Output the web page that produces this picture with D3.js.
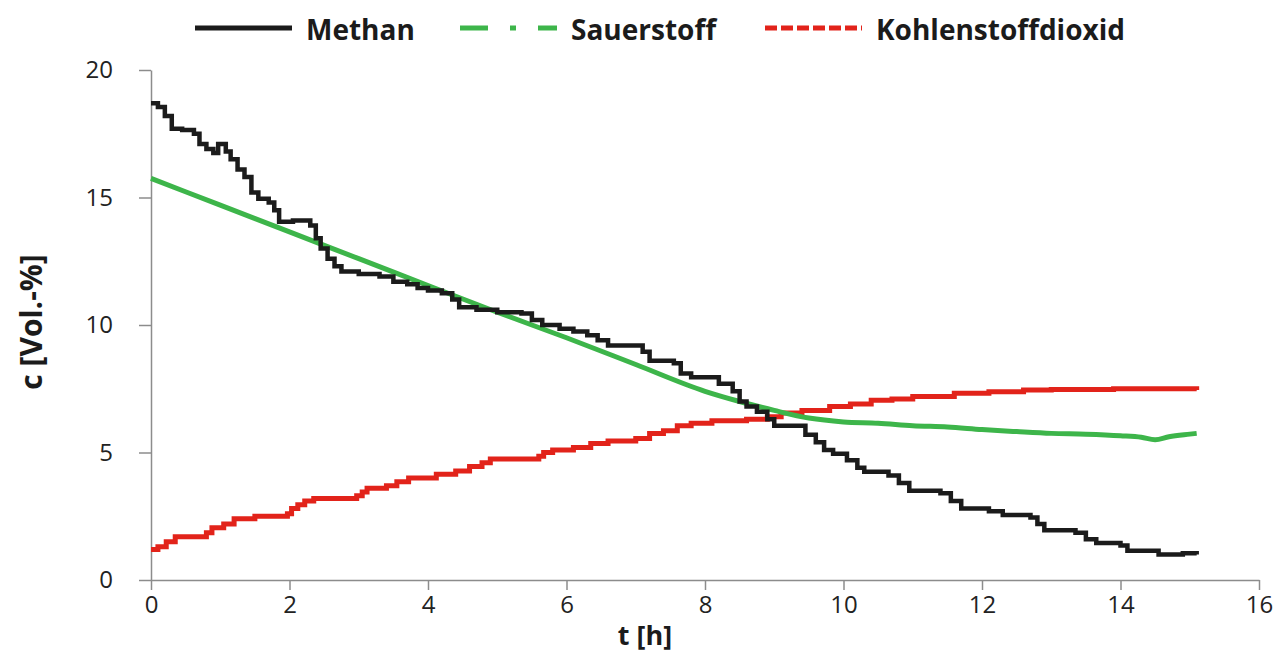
<!DOCTYPE html>
<html>
<head>
<meta charset="utf-8">
<script src="https://cdn.jsdelivr.net/npm/d3@7"></script>
<style>
  body { margin: 0; background: #fff; }
  svg { display: block; }
</style>
</head>
<body>
<svg id="chart"></svg>
<script>
// data (t in h, c in Vol.-%)
const methanT = [0, 0.1, 0.2, 0.3, 0.45, 0.62, 0.7, 0.8, 0.9, 0.97, 1.08, 1.15, 1.25, 1.35, 1.45, 1.55, 1.7, 1.78, 1.85, 2.05, 2.3, 2.38, 2.45, 2.55, 2.65, 2.75, 3.0, 3.3, 3.5, 3.7, 3.85, 4.0, 4.2, 4.35, 4.45, 4.7, 5.0, 5.35, 5.5, 5.65, 5.9, 6.1, 6.3, 6.45, 6.6, 6.95, 7.1, 7.2, 7.55, 7.65, 7.8, 8.2, 8.4, 8.5, 8.6, 8.75, 8.9, 9.0, 9.45, 9.6, 9.72, 9.85, 10.05, 10.2, 10.3, 10.65, 10.8, 10.95, 11.4, 11.55, 11.7, 12.1, 12.3, 12.7, 12.8, 12.9, 13.35, 13.5, 13.65, 14.0, 14.1, 14.55, 14.9, 15.1]
const methanV = [18.7, 18.55, 18.2, 17.7, 17.65, 17.5, 17.1, 16.9, 16.75, 17.1, 16.8, 16.5, 16.1, 15.8, 15.2, 14.95, 14.8, 14.5, 14.05, 14.1, 13.9, 13.4, 13.0, 12.6, 12.3, 12.1, 12.0, 11.9, 11.7, 11.6, 11.45, 11.35, 11.25, 11.0, 10.7, 10.6, 10.5, 10.45, 10.2, 10.0, 9.85, 9.75, 9.6, 9.4, 9.2, 9.2, 8.95, 8.6, 8.5, 8.1, 7.95, 7.7, 7.4, 7.0, 6.8, 6.6, 6.3, 6.05, 5.7, 5.4, 5.1, 4.95, 4.7, 4.4, 4.25, 4.1, 3.8, 3.5, 3.4, 3.1, 2.8, 2.7, 2.55, 2.45, 2.2, 1.95, 1.85, 1.6, 1.45, 1.35, 1.15, 1.0, 1.05, 1.0]

const sauerstoffT = [0, 1, 2, 3, 4, 5, 6, 7, 8, 8.5, 9, 9.5, 10, 10.5, 11, 11.5, 12, 12.5, 13, 13.5, 14, 14.3, 14.5, 14.7, 15, 15.1]
const sauerstoffV = [15.75, 14.7, 13.65, 12.6, 11.55, 10.5, 9.5, 8.45, 7.4, 7.0, 6.65, 6.35, 6.2, 6.15, 6.05, 6.0, 5.9, 5.82, 5.75, 5.72, 5.66, 5.6, 5.5, 5.62, 5.72, 5.75]

const co2T = [0, 0.1, 0.22, 0.35, 0.8, 0.88, 1.05, 1.2, 1.5, 1.97, 2.03, 2.12, 2.22, 2.35, 2.97, 3.05, 3.12, 3.4, 3.55, 3.72, 4.12, 4.4, 4.6, 4.78, 4.9, 5.6, 5.67, 5.8, 6.1, 6.35, 6.6, 7.0, 7.2, 7.4, 7.6, 7.8, 8.1, 8.6, 8.9, 9.1, 9.4, 9.8, 10.1, 10.4, 10.7, 11.0, 11.6, 12.1, 12.6, 13.0, 13.9, 15.1]
const co2V = [1.2, 1.3, 1.5, 1.7, 1.85, 2.05, 2.2, 2.4, 2.5, 2.6, 2.8, 2.95, 3.1, 3.2, 3.3, 3.45, 3.6, 3.7, 3.85, 4.0, 4.15, 4.27, 4.45, 4.6, 4.75, 4.85, 5.0, 5.1, 5.2, 5.35, 5.45, 5.55, 5.75, 5.85, 6.05, 6.15, 6.25, 6.3, 6.4, 6.55, 6.65, 6.8, 6.9, 7.05, 7.1, 7.2, 7.32, 7.38, 7.45, 7.47, 7.5, 7.45]

const xTicks = [0, 2, 4, 6, 8, 10, 12, 14, 16]
const yTicks = [0, 5, 10, 15, 20]

const seriesNames = ['Methan', 'Sauerstoff', 'Kohlenstoffdioxid']
const seriesColors = ['#1b1b1b', '#3db54a', '#e2231a']

const width = 1275
const height = 654
const svg = d3.select('#chart').attr('width', width).attr('height', height)

// Scales
const x = d3.scaleLinear().domain([0, 16]).range([151, 1259])
const y = d3.scaleLinear().domain([0, 20]).range([580, 70])

const axisColor = '#8c8c8c'
const tickFont = '"Open Sans", sans-serif'

// y axis
const yAxis = svg.append('g')
  .attr('transform', `translate(${x(0)},0)`)
  .call(d3.axisLeft(y).tickValues(yTicks).tickSize(12).tickPadding(26).tickSizeOuter(0))
yAxis.select('.domain').attr('stroke', axisColor).attr('stroke-width', 1.5)
yAxis.selectAll('.tick line').attr('stroke', axisColor).attr('stroke-width', 1.5)
yAxis.selectAll('.tick text')
  .attr('fill', '#222')
  .style('font-family', tickFont)
  .style('font-size', '24px')

// x axis
const xAxis = svg.append('g')
  .attr('transform', `translate(0,${y(0)})`)
  .call(d3.axisBottom(x).tickValues(xTicks).tickSize(10).tickPadding(6).tickSizeOuter(0))
xAxis.select('.domain').attr('stroke', axisColor).attr('stroke-width', 1.5)
xAxis.selectAll('.tick line').attr('stroke', axisColor).attr('stroke-width', 1.5)
xAxis.selectAll('.tick text')
  .attr('fill', '#222')
  .style('font-family', tickFont)
  .style('font-size', '24px')

// axis titles
svg.append('text')
  .attr('x', 645)
  .attr('y', 645)
  .attr('text-anchor', 'middle')
  .style('font-family', tickFont)
  .style('font-weight', 'bold')
  .style('font-size', '27px')
  .attr('fill', '#1b1b1b')
  .text('t [h]')

svg.append('text')
  .attr('transform', 'translate(42,322) rotate(-90)')
  .attr('text-anchor', 'middle')
  .style('font-family', tickFont)
  .style('font-weight', 'bold')
  .style('font-size', '30px')
  .attr('fill', '#1b1b1b')
  .text('c [Vol.-%]')

// Lines
const stepLine = d3.line()
  .x(d => x(d[0]))
  .y(d => y(d[1]))
  .curve(d3.curveStepAfter)
const smoothLine = d3.line()
  .x(d => x(d[0]))
  .y(d => y(d[1]))
  .curve(d3.curveMonotoneX)

const plot = svg.append('g')
plot.append('path')
  .datum(d3.zip(co2T, co2V))
  .attr('fill', 'none')
  .attr('stroke', seriesColors[2])
  .attr('stroke-width', 5)
  .attr('d', stepLine)
plot.append('path')
  .datum(d3.zip(sauerstoffT, sauerstoffV))
  .attr('fill', 'none')
  .attr('stroke', seriesColors[1])
  .attr('stroke-width', 5)
  .attr('d', smoothLine)
plot.append('path')
  .datum(d3.zip(methanT, methanV))
  .attr('fill', 'none')
  .attr('stroke', seriesColors[0])
  .attr('stroke-width', 4.5)
  .attr('d', stepLine)

// Legend
const legendX = [195, 460, 765]
const legendDash = [null, '28 22 6 22 28', '12 4']
const legend = svg.append('g')
seriesNames.forEach((name, i) => {
  const g = legend.append('g').attr('transform', `translate(${legendX[i]},28)`)
  g.append('line')
    .attr('x1', 0)
    .attr('x2', 97)
    .attr('stroke', seriesColors[i])
    .attr('stroke-width', 5)
    .attr('stroke-dasharray', legendDash[i])
  g.append('text')
    .attr('x', 111)
    .attr('y', 12)
    .style('font-family', tickFont)
    .style('font-weight', 'bold')
    .style('font-size', '28px')
    .attr('fill', '#1b1b1b')
    .text(name)
})
</script>
</body>
</html>
